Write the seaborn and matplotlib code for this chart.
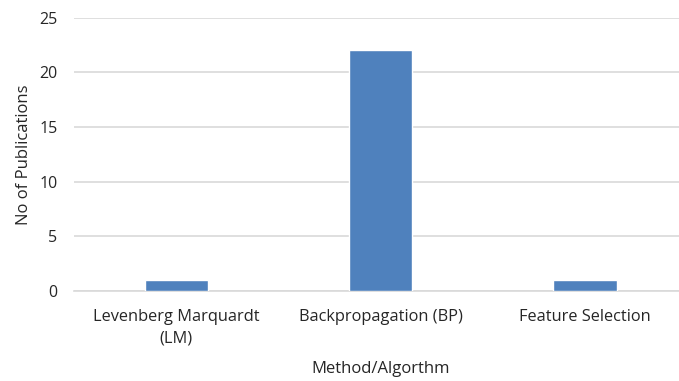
import matplotlib
matplotlib.use("Agg")
import matplotlib.pyplot as plt
import seaborn as sns
import pandas as pd

categories = ["Levenberg Marquardt\n(LM)", "Backpropagation (BP)", "Feature Selection"]
values = [1, 22, 1]
yticks = [0, 5, 10, 15, 20, 25]

sns.set_theme(style="white")
plt.rcParams['font.family'] = ['Open Sans', 'DejaVu Sans']

txt = "#262626"
df = pd.DataFrame({"cat": categories, "val": values})
fig = plt.figure(figsize=(6.79, 3.81), dpi=100)
ax = fig.add_axes([0.109, 0.236, 0.903, 0.718])
sns.barplot(data=df, x="cat", y="val", color="#4F81BD", saturation=1, width=0.31, ax=ax, zorder=3)
ax.set_ylim(0, 25)
ax.set_yticks(yticks)
ax.yaxis.grid(True, color="#D9D9D9", linewidth=1.2, zorder=0)
for s in ["top", "right", "left"]:
    ax.spines[s].set_visible(False)
ax.spines["bottom"].set_color("#D9D9D9")
ax.spines["bottom"].set_linewidth(1.2)
ax.tick_params(axis="y", length=0, colors=txt, labelsize=11.5, pad=12)
ax.tick_params(axis="x", length=0, colors=txt, labelsize=11.8, pad=13)
for lbl in ax.get_xticklabels():
    lbl.set_multialignment("center")
    lbl.set_linespacing(1.45)
ax.set_xlabel("Method/Algorthm", color=txt, fontsize=12)
ax.xaxis.set_label_coords(0.5, -0.283)
ax.xaxis.label.set_va("center")
ax.set_ylabel("No of Publications", color=txt, fontsize=12)
ax.yaxis.set_label_coords(-0.081, 0.5)
ax.yaxis.label.set_va("center")
fig.savefig("out.png", dpi=100)
